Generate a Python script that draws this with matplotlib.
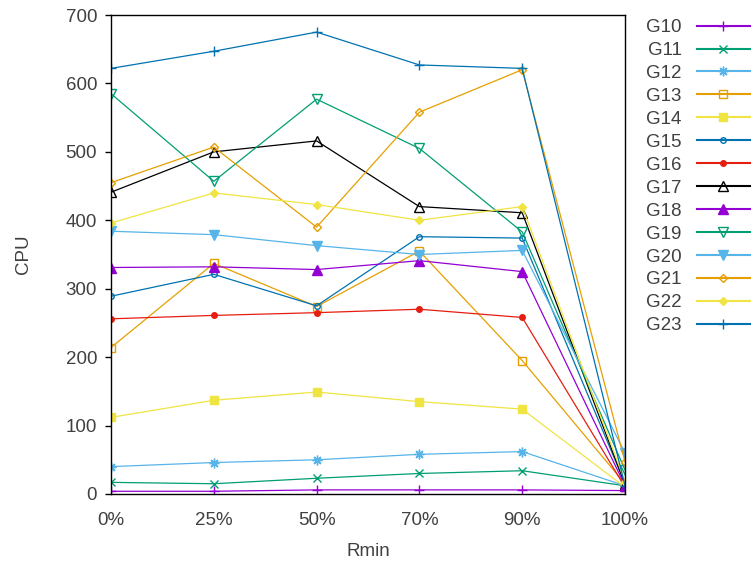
import matplotlib
import matplotlib.pyplot as plt

matplotlib.use("Agg")
plt.rcParams['font.family'] = ['Liberation Sans', 'DejaVu Sans']

rmin = ["0%", "25%", "50%", "70%", "90%", "100%"]

G10 = [4, 4, 6, 6, 6, 5]
G11 = [17, 15, 23, 30, 34, 12]
G12 = [40, 46, 50, 58, 62, 12]
G13 = [214, 337, 274, 355, 195, 15]
G14 = [112, 137, 149, 135, 124, 10]
G15 = [289, 321, 275, 376, 374, 15]
G16 = [256, 261, 265, 270, 258, 10]
G17 = [441, 500, 516, 420, 411, 14]
G18 = [331, 332, 328, 341, 325, 12]
G19 = [585, 457, 577, 505, 383, 35]
G20 = [384, 379, 363, 350, 356, 60]
G21 = [455, 507, 390, 558, 620, 47]
G22 = [396, 440, 423, 400, 420, 18]
G23 = [622, 647, 675, 627, 622, 12]

series = [("G10", G10), ("G11", G11), ("G12", G12), ("G13", G13), ("G14", G14),
          ("G15", G15), ("G16", G16), ("G17", G17), ("G18", G18), ("G19", G19),
          ("G20", G20), ("G21", G21), ("G22", G22), ("G23", G23)]

# gnuplot default line colours, they cycle after 8
cols = ["#9400d3", "#009e73", "#56b4e9", "#e69f00", "#f0e442", "#0072b2", "#e51e10", "#000000"]
# (marker, filled, size)
marks = [("+", True, 7), ("x", True, 6), ((8, 2, 0), True, 7), ("s", False, 6),
         ("s", True, 6), ("o", False, 4), ("o", True, 4), ("^", False, 7),
         ("^", True, 7), ("v", False, 7), ("v", True, 7), ("D", False, 4),
         ("D", True, 4), ("+", True, 7)]

fs = 13.5
tc = "#404040"

fig = plt.figure(figsize=(7.53, 5.64), dpi=100)
ax = fig.add_axes([111/753, 70/564, 514/753, 479/564])

x = list(range(len(rmin)))
for i, (name, vals) in enumerate(series):
    c = cols[i % 8]
    m, filled, ms = marks[i]
    ax.plot(x, vals, color=c, lw=0.9, marker=m, ms=ms, mew=1.0,
            mfc=c if filled else "none", mec=c, label=name)

ax.set_xlim(0, 5)
ax.set_ylim(0, 700)
ax.set_xticks(x)
ax.set_xticklabels(rmin)
ax.set_yticks(range(0, 701, 100))
ax.tick_params(axis="x", length=0, pad=13, labelsize=fs, labelcolor=tc)
ax.tick_params(axis="y", length=4, width=1, pad=6, labelsize=fs, labelcolor=tc)
for s in ax.spines.values():
    s.set_linewidth(1.0)
ax.set_xlabel("Rmin", fontsize=fs, color=tc, labelpad=10)
ax.set_ylabel("CPU", fontsize=fs, color=tc, labelpad=24)

leg = ax.legend(loc="upper left", bbox_to_anchor=(646/753, 1 - 19/564),
                bbox_transform=fig.transFigure, frameon=False, markerfirst=False,
                fontsize=fs, handlelength=2.85, handletextpad=0.8,
                labelspacing=0.31, borderaxespad=0, borderpad=0)
for t in leg.get_texts():
    t.set_color(tc)
for h in leg.legend_handles:
    h.set_linewidth(1.5)

plt.savefig("out.png")
